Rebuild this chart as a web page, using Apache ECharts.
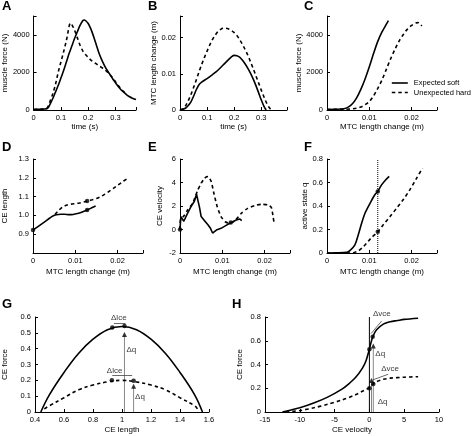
<!DOCTYPE html>
<html><head><meta charset="utf-8">
<script src="https://cdn.jsdelivr.net/npm/echarts@6/dist/echarts.min.js"></script>
<style>html,body{margin:0;padding:0;background:#fff}#c{width:476px;height:436px}</style>
</head><body><div id="c"></div>
<script>
// ---------- DATA ----------
// A: muscle force (N) vs time (s)
const aSoft = [[0,30],[0.02,40],[0.04,50],[0.05,80],[0.055,150],[0.06,300],[0.07,600],[0.08,950],[0.09,1300],[0.10,1700],[0.11,2100],[0.12,2550],[0.13,3000],[0.14,3400],[0.15,3800],[0.16,4150],[0.17,4500],[0.18,4750],[0.185,4790],[0.19,4760],[0.20,4600],[0.21,4300],[0.22,3900],[0.23,3450],[0.24,3000],[0.25,2650],[0.26,2350],[0.27,2100],[0.28,1880],[0.29,1650],[0.30,1450],[0.31,1250],[0.32,1080],[0.33,950],[0.34,820],[0.35,720],[0.36,640],[0.375,560]];
const aHard = [[0,30],[0.02,40],[0.04,50],[0.05,120],[0.055,250],[0.06,450],[0.07,850],[0.08,1350],[0.09,2000],[0.10,2550],[0.11,3100],[0.12,3700],[0.125,4050],[0.13,4450],[0.135,4620],[0.14,4540],[0.15,4250],[0.16,3850],[0.17,3450],[0.18,3150],[0.19,2950],[0.20,2800],[0.21,2650],[0.22,2550],[0.23,2450],[0.24,2350],[0.25,2250],[0.26,2150],[0.27,2020],[0.28,1880],[0.29,1700],[0.30,1500],[0.31,1300],[0.32,1120],[0.33,980],[0.335,900]];
// B: MTC length change (m) vs time (s)
const bSoft = [[0,0],[0.02,0.0005],[0.03,0.0012],[0.04,0.0022],[0.05,0.0038],[0.06,0.0056],[0.07,0.0070],[0.08,0.0077],[0.10,0.0087],[0.12,0.0098],[0.14,0.0110],[0.16,0.0125],[0.18,0.0140],[0.19,0.0147],[0.20,0.0151],[0.21,0.0150],[0.22,0.0146],[0.23,0.0138],[0.24,0.0128],[0.25,0.0116],[0.26,0.0102],[0.27,0.0086],[0.28,0.0068],[0.29,0.0048],[0.30,0.0028],[0.31,0.0010],[0.318,0]];
const bHard = [[0,0],[0.01,0.0003],[0.02,0.0011],[0.03,0.0025],[0.04,0.0042],[0.05,0.0062],[0.06,0.0083],[0.07,0.0105],[0.08,0.0126],[0.09,0.0145],[0.10,0.0163],[0.11,0.0180],[0.12,0.0195],[0.13,0.0207],[0.14,0.0217],[0.15,0.0223],[0.16,0.0226],[0.17,0.0226],[0.18,0.0224],[0.19,0.0220],[0.20,0.0214],[0.21,0.0206],[0.22,0.0195],[0.23,0.0182],[0.24,0.0168],[0.25,0.0152],[0.26,0.0134],[0.27,0.0115],[0.28,0.0095],[0.29,0.0075],[0.30,0.0055],[0.31,0.0036],[0.32,0.0019],[0.33,0.0006],[0.338,0]];
// C: muscle force (N) vs MTC length change (m)
const cSoft = [[0,30],[0.002,40],[0.004,70],[0.005,150],[0.006,330],[0.007,650],[0.008,1100],[0.009,1650],[0.010,2300],[0.011,3000],[0.012,3650],[0.013,4150],[0.014,4550],[0.0145,4750]];
const cHard = [[0,30],[0.004,40],[0.006,60],[0.007,90],[0.008,160],[0.009,280],[0.010,450],[0.011,750],[0.012,1150],[0.013,1600],[0.014,2150],[0.015,2700],[0.016,3200],[0.017,3650],[0.018,4000],[0.019,4300],[0.020,4500],[0.021,4630],[0.0215,4650],[0.022,4580],[0.0224,4470]];
// D: CE length vs MTC length change
const dSoft = [[0,0.922],[0.001,0.938],[0.002,0.954],[0.003,0.970],[0.004,0.986],[0.0048,0.998],[0.0055,1.003],[0.0065,1.006],[0.0075,1.006],[0.0085,1.004],[0.0095,1.005],[0.0105,1.010],[0.0115,1.017],[0.0125,1.026],[0.0135,1.036],[0.0148,1.050]];
const dHard = [[0.0052,1.005],[0.006,1.025],[0.007,1.045],[0.008,1.055],[0.009,1.060],[0.010,1.063],[0.011,1.066],[0.012,1.071],[0.0128,1.076],[0.014,1.083],[0.015,1.090],[0.016,1.100],[0.017,1.113],[0.018,1.128],[0.019,1.144],[0.020,1.160],[0.021,1.176],[0.0222,1.195]];
const dDots = [[0,0.922],[0.0128,1.029],[0.0128,1.077]];
// E: CE velocity vs MTC length change
const eSoft = [[0,0],[0.0002,1.1],[0.0009,0.7],[0.0018,1.4],[0.0026,1.95],[0.0034,2.4],[0.0039,3.0],[0.0046,1.9],[0.005,1.1],[0.0058,0.75],[0.0066,0.4],[0.0072,0.1],[0.0077,-0.3],[0.0086,-0.05],[0.0097,0.1],[0.0109,0.35],[0.0121,0.6],[0.0133,0.8],[0.0141,0.9],[0.0146,0.75]];
const eHard = [[0,0],[0.0001,0.8],[0.0011,1.23],[0.0018,1.66],[0.003,2.23],[0.0042,3.36],[0.005,3.93],[0.0058,4.36],[0.0064,4.5],[0.0068,4.45],[0.0074,4.07],[0.008,3.08],[0.0088,1.94],[0.0097,1.09],[0.0107,0.66],[0.0117,0.53],[0.0129,0.72],[0.0145,1.38],[0.016,1.8],[0.0176,2.03],[0.0192,2.14],[0.0208,2.09],[0.0216,1.86],[0.022,1.09],[0.0223,0.44]];
const eDots = [[0,0],[0.012,0.6]];
// F: active state q vs MTC length change
const fSoft = [[0,0],[0.0047,0.005],[0.0054,0.02],[0.0066,0.07],[0.0074,0.156],[0.0082,0.255],[0.009,0.34],[0.0102,0.425],[0.0113,0.496],[0.012,0.524],[0.0129,0.58],[0.0139,0.624],[0.0147,0.652]];
const fHard = [[0,0],[0.0055,0],[0.0065,0.005],[0.0075,0.02],[0.0085,0.05],[0.0095,0.09],[0.0105,0.13],[0.012,0.18],[0.0133,0.24],[0.0149,0.31],[0.0165,0.383],[0.018,0.453],[0.0196,0.539],[0.0212,0.638],[0.0226,0.723]];
const fDots = [[0.012,0.524],[0.012,0.18]];
const fMarkX = [[0.012,0],[0.012,0.8]];
// G: CE force vs CE length
const gSoft = [[0.44,0],[0.5,0.11],[0.6,0.25],[0.7,0.37],[0.8,0.46],[0.9,0.52],[1.0,0.54],[1.1,0.52],[1.2,0.46],[1.3,0.37],[1.4,0.25],[1.5,0.11],[1.555,0]];
const gHard = [[0.464,0.02],[0.5,0.04],[0.6,0.09],[0.7,0.14],[0.8,0.17],[0.9,0.19],[1.0,0.2],[1.1,0.19],[1.2,0.17],[1.3,0.14],[1.4,0.09],[1.5,0.04],[1.52,0.02]];
const gDots = [[0.933,0.533],[1.017,0.543],[0.93,0.2],[1.08,0.198]];
const gTriangles = [[1.017,0.49],[1.08,0.163]];
const gQLines = [[[1.017,0],[1.017,0.48]],[[1.08,0],[1.08,0.155]]];
const gArrows = [[[0.944,0.56],[1.024,0.56]],[[0.933,0.229],[1.07,0.229]]];
const gLabels = [['Δlce',0.978,0.598,'c'],['Δlce',0.949,0.261,'c'],['Δq',1.031,0.392,'r'],['Δq',1.09,0.093,'r']];
// H: CE force vs CE velocity
const hSoft = [[-12.5,0],[-10,0.035],[-8,0.075],[-6,0.125],[-4,0.19],[-3,0.235],[-2,0.29],[-1,0.37],[-0.5,0.43],[0,0.53],[0.25,0.59],[0.5,0.635],[1,0.69],[2,0.74],[3,0.76],[4,0.77],[5,0.78],[7,0.79]];
const hHard = [[-12,0],[-10,0.012],[-8,0.035],[-6,0.065],[-4,0.1],[-2,0.145],[-1,0.175],[-0.5,0.19],[0,0.205],[0.5,0.235],[1,0.255],[2,0.275],[3,0.285],[5,0.293],[7,0.297]];
const hDots = [[0,0.528],[0.47,0.634],[0,0.2],[0.56,0.236]];
const hTriangles = [[0.56,0.556],[0.3,0.265]];
const hQLines = [[[0.56,0],[0.56,0.54]],[[0.3,0],[0.3,0.25]]];
const hArrows = [[[0.23,0.66],[1.77,0.767]],[[0.47,0.27],[2.7,0.318]]];
const hLabels = [['Δvce',1.78,0.83,'c'],['Δvce',2.97,0.36,'c'],['Δq',0.85,0.488,'r'],['Δq',1.19,0.087,'r']];
const hZeroLine = [[0,0],[0,0.8]];
const panelLetters = ['A','B','C','D','E','F','G','H'];
const legendNames = ['Expected soft','Unexpected hard'];

// ---------- LAYOUT ----------
const FONT = "'Liberation Sans', Arial, Helvetica, sans-serif";
const grids = [
  {left:33, top:16, width:103, height:94},
  {left:180, top:16, width:107, height:94},
  {left:327, top:16, width:110, height:94},
  {left:33, top:159, width:110, height:94},
  {left:180, top:159, width:110, height:94},
  {left:327, top:159, width:110, height:94},
  {left:34, top:317, width:175, height:95},
  {left:265, top:317, width:174, height:95}
];
const letterPos = [[2,0],[148,0],[304,0],[2,141],[148,141],[304,141],[2,298],[232,298]];

function fmt(step, dec, fixed, hideMin, min) {
  return function (v) {
    if (hideMin && Math.abs(v - min) < 1e-9) return '';
    const k = v / step;
    if (Math.abs(k - Math.round(k)) > 1e-6) return '';
    return fixed ? v.toFixed(dec) : String(+v.toFixed(dec));
  };
}
const axisCommon = {
  axisLine: {onZero:false, lineStyle:{color:'#000', width:1}},
  axisTick: {inside:true, length:3, lineStyle:{color:'#000', width:1}},
  splitLine: {show:false},
  nameLocation: 'middle',
  nameTextStyle: {fontSize:8, color:'#000', fontFamily:FONT}
};
function xAx(i, min, max, step, dec, name, gap) {
  return Object.assign({}, axisCommon, {type:'value', gridIndex:i, min, max, interval:step, name, nameGap:gap,
    axisLabel:{fontSize:7.5, color:'#000', fontFamily:FONT, margin:4, formatter:fmt(step,dec,false)}});
}
function yAx(i, min, max, step, dec, name, gap, fixed, hideMin) {
  return Object.assign({}, axisCommon, {type:'value', gridIndex:i, min, max, interval:step, name, nameGap:gap,
    axisLabel:{fontSize:7.5, color:'#000', fontFamily:FONT, margin:4, formatter:fmt(step,dec,fixed,hideMin,min)}});
}
const xAxes = [
  xAx(0,0,0.375,0.1,1,'time (s)',13),
  xAx(1,0,0.395,0.1,1,'time (s)',13),
  xAx(2,0,0.026,0.01,2,'MTC length change (m)',13),
  xAx(3,0,0.026,0.01,2,'MTC length change (m)',15),
  xAx(4,0,0.026,0.01,2,'MTC length change (m)',15),
  xAx(5,0,0.026,0.01,2,'MTC length change (m)',15),
  xAx(6,0.4,1.6,0.2,1,'CE length',14),
  xAx(7,-15,10,5,0,'CE velocity',14)
];
const yAxes = [
  yAx(0,0,5000,2000,0,'muscle force (N)',24),
  yAx(1,0,0.026,0.01,2,'MTC length change (m)',19),
  yAx(2,0,5000,2000,0,'muscle force (N)',17),
  yAx(3,0.8,1.3,0.1,1,'CE length',24,true,true),
  yAx(4,-2,6,2,0,'CE velocity',16),
  yAx(5,0,0.8,0.2,1,'active state q',18),
  yAx(6,0,0.6,0.1,1,'CE force',26),
  yAx(7,0,0.8,0.2,1,'CE force',21)
];

function curve(name, data, i, dashed, smooth) {
  return {type:'line', name, data, xAxisIndex:i, yAxisIndex:i, symbol:'none', showSymbol:false,
    smooth: smooth, silent:true, z:3, itemStyle:{color:'#000'},
    lineStyle:{color:'#000', width:1.6, type: dashed ? [3.5,3] : 'solid'}};
}
function plain(name, data, i, color, width, type) {
  return {type:'line', name, data, xAxisIndex:i, yAxisIndex:i, symbol:'none', silent:true, z:2,
    itemStyle:{color}, lineStyle:{color, width, type}};
}
function dots(name, data, i, symbol, size) {
  return {type:'scatter', name, data, xAxisIndex:i, yAxisIndex:i, symbol, symbolSize:size, silent:true, z:5,
    itemStyle:{color:'#000'}};
}
function arrows(name, segs, i, curv) {
  return {type:'line', name, data:[], xAxisIndex:i, yAxisIndex:i, symbol:'none', silent:true,
    markLine:{silent:true, symbol:['none','arrow'], symbolSize:[0,5], label:{show:false}, animation:false,
      lineStyle:{color:'#444', width:0.8, type:'solid', curveness:curv},
      data: segs.map(s => [{coord:s[0]},{coord:s[1]}])}};
}
function texts(name, labels, i) {
  return {type:'scatter', name, xAxisIndex:i, yAxisIndex:i, symbolSize:0, silent:true, clip:false, z:6,
    data: labels.map(l => ({name:l[0], value:[l[1], l[2]],
      label:{show:true, formatter:'{b}', position: l[3]==='r' ? 'right' : 'inside', distance:0,
        fontSize:8, color:'#000', fontFamily:FONT}}))};
}

const S = legendNames[0], Hd = legendNames[1];
const series = [
  curve(S, aSoft, 0, false, 0.3), curve(Hd, aHard, 0, true, 0.3),
  curve(S, bSoft, 1, false, 0.3), curve(Hd, bHard, 1, true, 0.3),
  curve(S, cSoft, 2, false, 0.3), curve(Hd, cHard, 2, true, 0.3),
  curve(S, dSoft, 3, false, 0.3), curve(Hd, dHard, 3, true, 0.3), dots('dDots', dDots, 3, 'circle', 4.5),
  curve(S, eSoft, 4, false, false), curve(Hd, eHard, 4, true, 0.2), dots('eDots', eDots, 4, 'circle', 4.5),
  curve(S, fSoft, 5, false, 0.3), curve(Hd, fHard, 5, true, 0.3), dots('fDots', fDots, 5, 'circle', 4.5),
  plain('fMark', fMarkX, 5, '#000', 1, 'dotted'),
  curve(S, gSoft, 6, false, 0.4), curve(Hd, gHard, 6, true, 0.4),
  ...gQLines.map((l,k) => plain('gq'+k, l, 6, '#888', 1, 'solid')),
  dots('gDots', gDots, 6, 'circle', 4.5), dots('gTri', gTriangles, 6, 'triangle', 5),
  arrows('gArr1', [gArrows[0]], 6, -0.25), arrows('gArr2', [gArrows[1]], 6, 0),
  texts('gTxt', gLabels, 6),
  plain('hZero', hZeroLine, 7, '#000', 1, 'solid'),
  curve(S, hSoft, 7, false, 0.3), curve(Hd, hHard, 7, true, 0.3),
  ...hQLines.map((l,k) => plain('hq'+k, l, 7, '#888', 1, 'solid')),
  dots('hDots', hDots, 7, 'circle', 4.5), dots('hTri', hTriangles, 7, 'triangle', 5),
  arrows('hArr', hArrows, 7, 0.3),
  texts('hTxt', hLabels, 7)
];

const chart = echarts.init(document.getElementById('c'), null, {renderer:'canvas'});
chart.setOption({
  animation:false,
  backgroundColor:'#fff',
  textStyle:{fontFamily:FONT},
  title: panelLetters.map((t,k) => ({text:t, left:letterPos[k][0], top:letterPos[k][1], padding:0,
    textStyle:{fontSize:13, fontWeight:'bold', color:'#000', fontFamily:FONT}})),
  legend: {data:legendNames, orient:'vertical', left:391, top:79, padding:0, itemGap:1.5,
    itemWidth:16, itemHeight:7, selectedMode:false,
    itemStyle:{color:'rgba(0,0,0,0)', borderColor:'rgba(0,0,0,0)', borderWidth:0, opacity:0},
    lineStyle:{color:'#000', width:1.6},
    textStyle:{fontSize:7.5, color:'#000', fontFamily:FONT, padding:[0,0,0,1]}},
  grid: grids,
  xAxis: xAxes,
  yAxis: yAxes,
  series
});
</script></body></html>
